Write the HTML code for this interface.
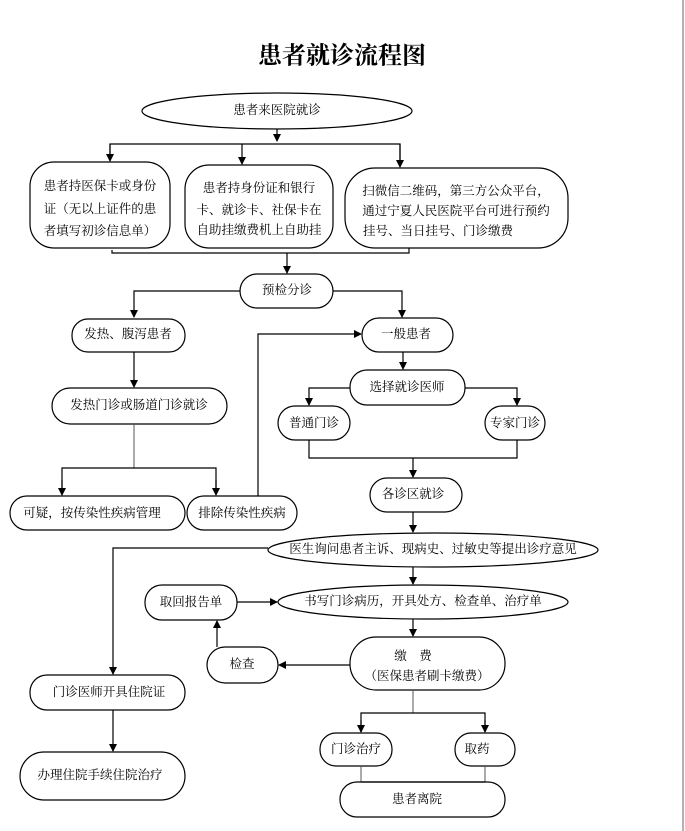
<!DOCTYPE html>
<html><head><meta charset="utf-8"><style>
body{margin:0;background:#fff;}
svg{display:block;}
text{font-family:"Liberation Serif","Noto Serif CJK SC","Noto Sans CJK SC",serif;font-size:12.5px;fill:#000;text-anchor:middle;dominant-baseline:middle;}
.b{fill:#fff;stroke:#000;stroke-width:1.2;}
.l{fill:none;stroke:#000;stroke-width:1.2;}
.g{fill:none;stroke:#555;stroke-width:1;}
</style></head><body>
<svg width="685" height="831" viewBox="0 0 685 831" xmlns="http://www.w3.org/2000/svg">
<defs><marker id="a" markerWidth="8" markerHeight="8" refX="7" refY="4" orient="auto" markerUnits="userSpaceOnUse"><path d="M0,0 L8,4 L0,8 z" fill="#000"/></marker></defs>
<line x1="683" y1="0" x2="683" y2="831" stroke="#999" stroke-width="1.5"/>
<text x="342" y="58" style="font-size:24px;font-weight:bold">患者就诊流程图</text>

<ellipse class="b" cx="277" cy="111" rx="135" ry="18"/>
<text x="277" y="111">患者来医院就诊</text>
<line class="l" x1="277" y1="129" x2="277" y2="141" marker-end="url(#a)"/>
<polyline class="l" points="110,160 110,144 400,144 400,166" />
<line class="l" x1="110" y1="144" x2="110" y2="161" marker-end="url(#a)"/>
<line class="l" x1="242" y1="144" x2="242" y2="164" marker-end="url(#a)"/>
<line class="l" x1="400" y1="144" x2="400" y2="167" marker-end="url(#a)"/>

<rect class="b" x="30" y="162" width="140" height="86" rx="24"/>
<text x="100" y="187">患者持医保卡或身份</text>
<text x="100" y="210">证（无以上证件的患</text>
<text x="100" y="232">者填写初诊信息单）</text>
<rect class="b" x="185" y="165" width="148" height="83" rx="24"/>
<text x="259" y="189">患者持身份证和银行</text>
<text x="259" y="211">卡、就诊卡、社保卡在</text>
<text x="259" y="231">自助挂缴费机上自助挂</text>
<rect class="b" x="345" y="168" width="223" height="80" rx="30"/>
<text x="456" y="192">扫微信二维码，第三方公众平台，</text>
<text x="456" y="212">通过宁夏人民医院平台可进行预约</text>
<text x="456" y="232" style="text-anchor:start" dx="-93">挂号、当日挂号、门诊缴费</text>

<polyline class="l" points="112,250 112,253 409,253 409,248"/>
<line class="l" x1="287" y1="253" x2="287" y2="273" marker-end="url(#a)"/>
<rect class="b" x="240" y="274" width="93" height="34" rx="17"/>
<text x="287" y="291">预检分诊</text>
<polyline class="l" points="240,291 134,291 134,317" marker-end="url(#a)"/>
<polyline class="l" points="333,291 402,291 402,317" marker-end="url(#a)"/>

<rect class="b" x="72" y="319" width="113" height="33" rx="16"/>
<text x="128" y="335">发热、腹泻患者</text>
<line class="l" x1="134" y1="352" x2="134" y2="387" marker-end="url(#a)"/>
<rect class="b" x="52" y="388" width="175" height="36" rx="18"/>
<text x="139" y="406">发热门诊或肠道门诊就诊</text>
<polyline class="g" points="134,424 134,468"/>
<polyline class="l" points="62,494 62,468 216,468 216,494"/>
<line class="l" x1="62" y1="480" x2="62" y2="495" marker-end="url(#a)"/>
<line class="l" x1="216" y1="480" x2="216" y2="495" marker-end="url(#a)"/>
<rect class="b" x="10" y="496" width="175" height="34" rx="17"/>
<text x="92" y="514">可疑，按传染性疾病管理</text>
<rect class="b" x="187" y="496" width="110" height="34" rx="17"/>
<text x="242" y="514">排除传染性疾病</text>
<polyline class="l" points="258,496 258,334 361,334" marker-end="url(#a)"/>

<rect class="b" x="362" y="318" width="91" height="34" rx="17"/>
<text x="406" y="335">一般患者</text>
<line class="l" x1="403" y1="352" x2="403" y2="369" marker-end="url(#a)"/>
<rect class="b" x="350" y="370" width="115" height="35" rx="17"/>
<text x="407" y="388">选择就诊医师</text>
<polyline class="l" points="350,388 309,388 309,405" marker-end="url(#a)"/>
<polyline class="l" points="465,388 517,388 517,405" marker-end="url(#a)"/>
<rect class="b" x="278" y="406" width="72" height="34" rx="17"/>
<text x="314" y="424">普通门诊</text>
<rect class="b" x="485" y="406" width="60" height="34" rx="17"/>
<text x="515" y="424">专家门诊</text>
<polyline class="l" points="309,440 309,458 517,458 517,440"/>
<line class="l" x1="413" y1="458" x2="413" y2="477" marker-end="url(#a)"/>
<rect class="b" x="370" y="478" width="92" height="34" rx="17"/>
<text x="413" y="495">各诊区就诊</text>
<line class="l" x1="413" y1="512" x2="413" y2="532" marker-end="url(#a)"/>
<ellipse class="b" cx="433" cy="550" rx="165" ry="17"/>
<text x="433" y="550">医生询问患者主诉、现病史、过敏史等提出诊疗意见</text>
<polyline class="l" points="268,548 113,548 113,674" marker-end="url(#a)"/>
<line class="l" x1="413" y1="567" x2="413" y2="584" marker-end="url(#a)"/>

<ellipse class="b" cx="423" cy="602" rx="145" ry="17"/>
<text x="423" y="602">书写门诊病历，开具处方、检查单、治疗单</text>
<rect class="b" x="145" y="585" width="92" height="35" rx="17"/>
<text x="191" y="603">取回报告单</text>
<line class="l" x1="237" y1="602" x2="277" y2="602" marker-end="url(#a)"/>
<line class="l" x1="413" y1="619" x2="413" y2="636" marker-end="url(#a)"/>
<rect class="b" x="350" y="637" width="155" height="53" rx="26"/>
<text x="413" y="657">缴　费</text>
<text x="427" y="677">（医保患者刷卡缴费）</text>
<rect class="b" x="207" y="647" width="71" height="36" rx="18"/>
<text x="242" y="665">检查</text>
<line class="l" x1="350" y1="665" x2="279" y2="665" marker-end="url(#a)"/>
<line class="l" x1="217" y1="647" x2="217" y2="621" marker-end="url(#a)"/>

<rect class="b" x="30" y="675" width="155" height="35" rx="17"/>
<text x="109" y="693">门诊医师开具住院证</text>
<line class="l" x1="113" y1="710" x2="113" y2="751" marker-end="url(#a)"/>
<rect class="b" x="20" y="752" width="165" height="48" rx="24"/>
<text x="100" y="776">办理住院手续住院治疗</text>

<polyline class="g" points="413,690 413,713"/>
<polyline class="l" points="361,732 361,713 485,713 485,732"/>
<line class="l" x1="361" y1="720" x2="361" y2="732" marker-end="url(#a)"/>
<line class="l" x1="485" y1="720" x2="485" y2="732" marker-end="url(#a)"/>
<rect class="b" x="320" y="733" width="72" height="33" rx="16"/>
<text x="356" y="750">门诊治疗</text>
<rect class="b" x="455" y="733" width="60" height="33" rx="16"/>
<text x="477" y="750">取药</text>
<polyline class="g" points="361,766 361,790"/>
<polyline class="g" points="485,766 485,790"/>
<rect class="b" x="340" y="782" width="165" height="35" rx="17"/>
<line class="l" x1="361" y1="782" x2="485" y2="782"/>
<text x="417" y="800">患者离院</text>
</svg>
</body></html>
